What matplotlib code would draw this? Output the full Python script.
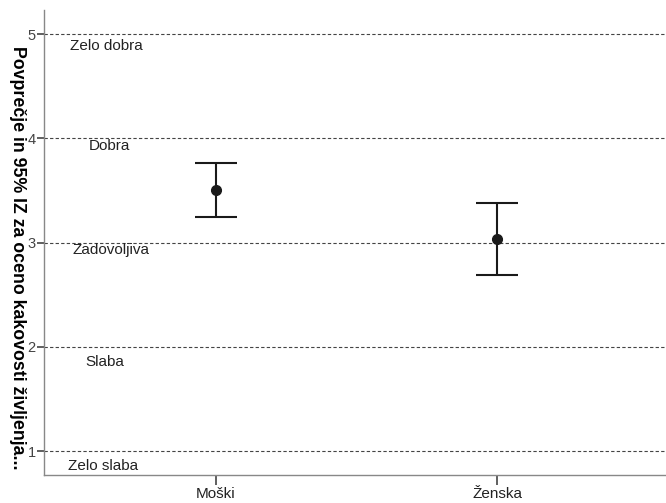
import matplotlib.pyplot as plt

# Podatki
skupine = ['Moški', 'Ženska']
povprecje = [3.50, 3.03]
ci_spodaj = [3.245, 2.69]
ci_zgoraj = [3.76, 3.38]

ocene = ['Zelo slaba', 'Slaba', 'Zadovoljiva', 'Dobra', 'Zelo dobra']
ocene_y = [1, 2, 3, 4, 5]
ocene_x = [0.60, 0.606, 0.628, 0.624, 0.613]
ocene_pos_y = [0.86, 1.855, 2.93, 3.93, 4.89]

plt.rcParams['font.family'] = ['Liberation Sans', 'DejaVu Sans']

fig = plt.figure(figsize=(6.66, 5.03), dpi=100)
ax = fig.add_axes([0.066, 0.0557, 0.934, 0.9243])

x = [1, 2]
for xi, m, lo, hi in zip(x, povprecje, ci_spodaj, ci_zgoraj):
    ax.errorbar(xi, m, yerr=[[m - lo], [hi - m]], fmt='o', color='#1a1a1a',
                markersize=7, elinewidth=1.5, capsize=15, capthick=1.5, zorder=3)

for yv in ocene_y:
    ax.axhline(yv, color='#444444', linestyle=(0, (3, 2)), linewidth=0.8, zorder=1)

for t, tx, ty in zip(ocene, ocene_x, ocene_pos_y):
    ax.text(tx, ty, t, ha='center', va='center', fontsize=11, color='#222222')

ax.set_xlim(0.39, 2.6)
ax.set_ylim(0.77, 5.23)
ax.set_xticks(x)
ax.set_xticklabels(skupine, fontsize=11, color='#222222')
ax.set_yticks(ocene_y)
ax.set_yticklabels([str(v) for v in ocene_y], fontsize=10.5, color='#444444')
ax.tick_params(axis='y', length=5, width=1.2, color='#444444', pad=1)
ax.tick_params(axis='x', length=7, width=1.2, color='#444444', pad=2)

for s in ['top', 'right']:
    ax.spines[s].set_visible(False)
for s in ['left', 'bottom']:
    ax.spines[s].set_color('#888888')
    ax.spines[s].set_linewidth(1.0)

fig.text(0.026, 0.488, 'Povprečje in 95% IZ za oceno kakovosti življenja...',
         rotation=-90, ha='center', va='center', fontsize=12.8, fontweight='bold')

fig.savefig('out.png', dpi=100)
